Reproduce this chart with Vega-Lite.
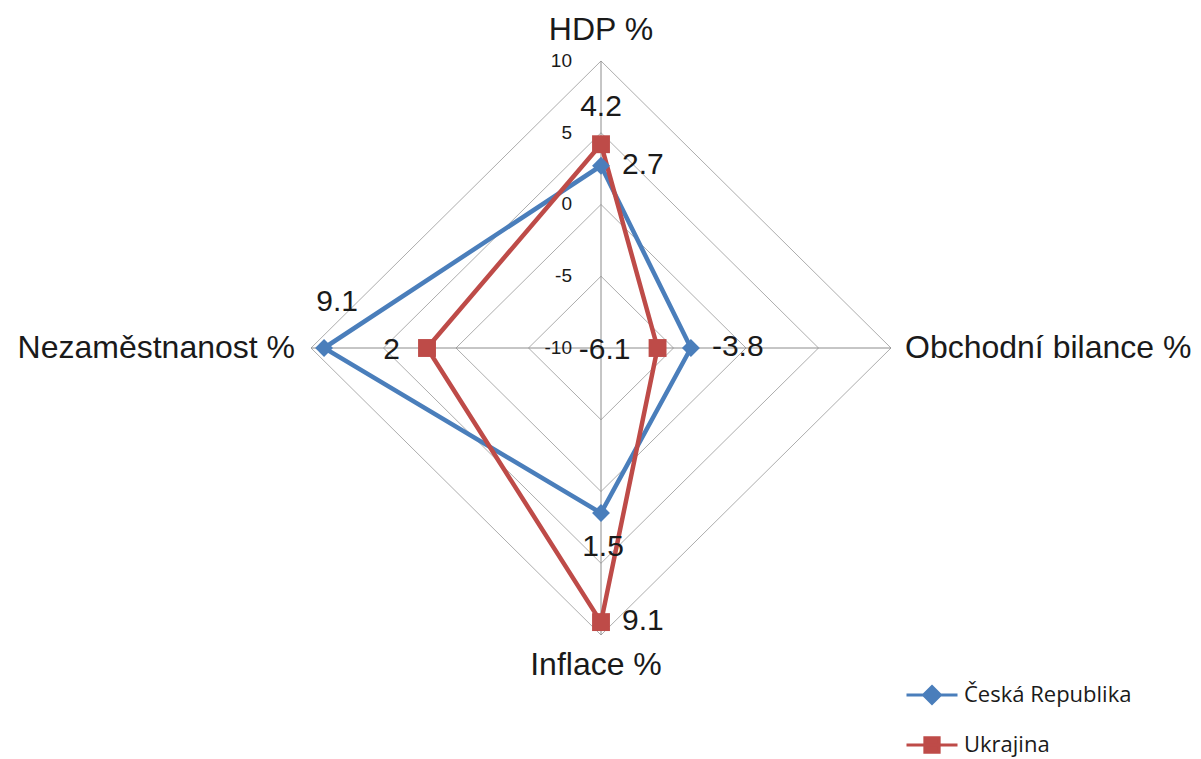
{
  "$schema": "https://vega.github.io/schema/vega-lite/v6.json",
  "width": 1201,
  "height": 759,
  "autosize": {"type": "none"},
  "padding": 0,
  "background": "#ffffff",
  "config": {"view": {"stroke": null}, "font": "Liberation Sans"},
  "datasets": {
    "series": [
      {"series": "Česká Republika", "axis": "HDP %", "idx": 0, "value": 2.7},
      {"series": "Česká Republika", "axis": "Obchodní bilance %", "idx": 1, "value": -3.8},
      {"series": "Česká Republika", "axis": "Inflace %", "idx": 2, "value": 1.5},
      {"series": "Česká Republika", "axis": "Nezaměstnanost %", "idx": 3, "value": 9.1},
      {"series": "Česká Republika", "axis": "HDP %", "idx": 4, "value": 2.7},
      {"series": "Ukrajina", "axis": "HDP %", "idx": 0, "value": 4.2},
      {"series": "Ukrajina", "axis": "Obchodní bilance %", "idx": 1, "value": -6.1},
      {"series": "Ukrajina", "axis": "Inflace %", "idx": 2, "value": 9.1},
      {"series": "Ukrajina", "axis": "Nezaměstnanost %", "idx": 3, "value": 2},
      {"series": "Ukrajina", "axis": "HDP %", "idx": 4, "value": 4.2}
    ],
    "grid": [
      {"lvl": -5, "k": 0}, {"lvl": -5, "k": 1}, {"lvl": -5, "k": 2}, {"lvl": -5, "k": 3}, {"lvl": -5, "k": 4},
      {"lvl": 0, "k": 0}, {"lvl": 0, "k": 1}, {"lvl": 0, "k": 2}, {"lvl": 0, "k": 3}, {"lvl": 0, "k": 4},
      {"lvl": 5, "k": 0}, {"lvl": 5, "k": 1}, {"lvl": 5, "k": 2}, {"lvl": 5, "k": 3}, {"lvl": 5, "k": 4},
      {"lvl": 10, "k": 0}, {"lvl": 10, "k": 1}, {"lvl": 10, "k": 2}, {"lvl": 10, "k": 3}, {"lvl": 10, "k": 4}
    ],
    "spokes": [{"k": 0}, {"k": 1}, {"k": 2}, {"k": 3}],
    "axes": [
      {"axis": "HDP %", "idx": 0},
      {"axis": "Obchodní bilance %", "idx": 1},
      {"axis": "Inflace %", "idx": 2},
      {"axis": "Nezaměstnanost %", "idx": 3}
    ],
    "ticks": [{"tick": -10}, {"tick": -5}, {"tick": 0}, {"tick": 5}, {"tick": 10}]
  },
  "encoding": {
    "x": {"field": "px", "type": "quantitative", "scale": {"domain": [-41.45, 41.38], "nice": false, "zero": false}, "axis": null},
    "y": {"field": "py", "type": "quantitative", "scale": {"domain": [-28.64, 24.25], "nice": false, "zero": false}, "axis": null}
  },
  "layer": [
    {
      "data": {"name": "grid"},
      "transform": [
        {"calculate": "(datum.lvl+10)*sin(datum.k*PI/2)", "as": "px"},
        {"calculate": "(datum.lvl+10)*cos(datum.k*PI/2)", "as": "py"}
      ],
      "mark": {"type": "line", "color": "#ADADAD", "strokeWidth": 1},
      "encoding": {"detail": {"field": "lvl", "type": "nominal"}, "order": {"field": "k", "type": "quantitative"}}
    },
    {
      "data": {"name": "spokes"},
      "transform": [
        {"calculate": "0", "as": "px"},
        {"calculate": "0", "as": "py"},
        {"calculate": "20*sin(datum.k*PI/2)", "as": "ex"},
        {"calculate": "20*cos(datum.k*PI/2)", "as": "ey"}
      ],
      "mark": {"type": "rule", "color": "#8C8C8C", "strokeWidth": 1},
      "encoding": {"x2": {"field": "ex"}, "y2": {"field": "ey"}}
    },
    {
      "data": {"name": "series"},
      "transform": [
        {"calculate": "(datum.value+10)*sin(datum.idx*PI/2)", "as": "px"},
        {"calculate": "(datum.value+10)*cos(datum.idx*PI/2)", "as": "py"}
      ],
      "mark": {"type": "line", "strokeWidth": 4.5},
      "encoding": {
        "color": {
          "field": "series",
          "type": "nominal",
          "scale": {"domain": ["Česká Republika", "Ukrajina"], "range": ["#4A7EBB", "#BE4B48"]},
          "legend": {
            "title": null,
            "orient": "none",
            "legendX": 905,
            "legendY": 668,
            "padding": 0,
            "rowPadding": 8,
            "symbolSize": 2601,
            "symbolStrokeWidth": 3,
            "labelFont": "Open Sans",
            "labelFontSize": 22,
            "labelColor": "#1a1a1a",
            "labelOffset": 5,
            "labelLimit": 300,
            "encode": {
              "symbols": {
                "update": {
                  "shape": {"signal": "datum.value === 'Ukrajina' ? 'M-1,0L1,0M-0.28,-0.28L0.28,-0.28L0.28,0.28L-0.28,0.28Z' : 'M-1,0L1,0M0,-0.33L0.33,0L0,0.33L-0.33,0Z'"},
                  "fill": {"scale": "color", "field": "value"},
                  "stroke": {"scale": "color", "field": "value"},
                  "size": {"value": 2601},
                  "strokeWidth": {"value": 3},
                  "opacity": {"value": 1}
                }
              }
            }
          }
        },
        "order": {"field": "idx", "type": "quantitative"}
      }
    },
    {
      "data": {"name": "series"},
      "transform": [
        {"filter": "datum.idx < 4 && datum.series == 'Česká Republika'"},
        {"calculate": "(datum.value+10)*sin(datum.idx*PI/2)", "as": "px"},
        {"calculate": "(datum.value+10)*cos(datum.idx*PI/2)", "as": "py"}
      ],
      "mark": {"type": "point", "filled": true, "opacity": 1, "size": 320, "shape": "diamond", "color": "#4A7EBB"}
    },
    {
      "data": {"name": "series"},
      "transform": [
        {"filter": "datum.idx < 4 && datum.series == 'Ukrajina'"},
        {"calculate": "(datum.value+10)*sin(datum.idx*PI/2)", "as": "px"},
        {"calculate": "(datum.value+10)*cos(datum.idx*PI/2)", "as": "py"}
      ],
      "mark": {"type": "point", "filled": true, "opacity": 1, "size": 320, "shape": "square", "color": "#BE4B48"}
    },
    {
      "data": {"name": "ticks"},
      "transform": [
        {"calculate": "0", "as": "px"},
        {"calculate": "datum.tick+10", "as": "py"}
      ],
      "mark": {"type": "text", "align": "right", "baseline": "middle", "dx": -29, "fontSize": 19, "color": "#1a1a1a"},
      "encoding": {"text": {"field": "tick", "type": "nominal"}}
    },
    {
      "data": {"name": "axes"},
      "transform": [
        {"filter": "datum.idx == 0"},
        {"calculate": "20*sin(datum.idx*PI/2)", "as": "px"},
        {"calculate": "20*cos(datum.idx*PI/2)", "as": "py"}
      ],
      "mark": {"type": "text", "align": "center", "baseline": "middle", "dy": -31, "fontSize": 32, "color": "#1a1a1a"},
      "encoding": {"text": {"field": "axis", "type": "nominal"}}
    },
    {
      "data": {"name": "axes"},
      "transform": [
        {"filter": "datum.idx == 1"},
        {"calculate": "20*sin(datum.idx*PI/2)", "as": "px"},
        {"calculate": "20*cos(datum.idx*PI/2)", "as": "py"}
      ],
      "mark": {"type": "text", "align": "left", "baseline": "middle", "dx": 14, "fontSize": 32, "color": "#1a1a1a"},
      "encoding": {"text": {"field": "axis", "type": "nominal"}}
    },
    {
      "data": {"name": "axes"},
      "transform": [
        {"filter": "datum.idx == 2"},
        {"calculate": "20*sin(datum.idx*PI/2)", "as": "px"},
        {"calculate": "20*cos(datum.idx*PI/2)", "as": "py"}
      ],
      "mark": {"type": "text", "align": "center", "baseline": "middle", "dx": -5, "dy": 30, "fontSize": 32, "color": "#1a1a1a"},
      "encoding": {"text": {"field": "axis", "type": "nominal"}}
    },
    {
      "data": {"name": "axes"},
      "transform": [
        {"filter": "datum.idx == 3"},
        {"calculate": "20*sin(datum.idx*PI/2)", "as": "px"},
        {"calculate": "20*cos(datum.idx*PI/2)", "as": "py"}
      ],
      "mark": {"type": "text", "align": "right", "baseline": "middle", "dx": -16, "fontSize": 32, "color": "#1a1a1a"},
      "encoding": {"text": {"field": "axis", "type": "nominal"}}
    },
    {
      "data": {"name": "series"},
      "transform": [
        {"filter": "(datum.series == 'Česká Republika' && (datum.idx == 0 || datum.idx == 1)) || (datum.series == 'Ukrajina' && datum.idx == 2)"},
        {"calculate": "(datum.value+10)*sin(datum.idx*PI/2)", "as": "px"},
        {"calculate": "(datum.value+10)*cos(datum.idx*PI/2)", "as": "py"}
      ],
      "mark": {"type": "text", "align": "left", "baseline": "middle", "dx": 21, "dy": -1, "fontSize": 30, "color": "#1a1a1a"},
      "encoding": {"text": {"field": "value", "type": "nominal"}}
    },
    {
      "data": {"name": "series"},
      "transform": [
        {"filter": "datum.series == 'Ukrajina' && (datum.idx == 1 || datum.idx == 3)"},
        {"calculate": "(datum.value+10)*sin(datum.idx*PI/2)", "as": "px"},
        {"calculate": "(datum.value+10)*cos(datum.idx*PI/2)", "as": "py"}
      ],
      "mark": {"type": "text", "align": "right", "baseline": "middle", "dx": -27, "dy": 2, "fontSize": 30, "color": "#1a1a1a"},
      "encoding": {"text": {"field": "value", "type": "nominal"}}
    },
    {
      "data": {"name": "series"},
      "transform": [
        {"filter": "datum.series == 'Ukrajina' && datum.idx == 0"},
        {"calculate": "(datum.value+10)*sin(datum.idx*PI/2)", "as": "px"},
        {"calculate": "(datum.value+10)*cos(datum.idx*PI/2)", "as": "py"}
      ],
      "mark": {"type": "text", "align": "center", "baseline": "middle", "dy": -37, "fontSize": 30, "color": "#1a1a1a"},
      "encoding": {"text": {"field": "value", "type": "nominal"}}
    },
    {
      "data": {"name": "series"},
      "transform": [
        {"filter": "datum.series == 'Česká Republika' && datum.idx == 2"},
        {"calculate": "(datum.value+10)*sin(datum.idx*PI/2)", "as": "px"},
        {"calculate": "(datum.value+10)*cos(datum.idx*PI/2)", "as": "py"}
      ],
      "mark": {"type": "text", "align": "center", "baseline": "middle", "dx": 2, "dy": 34, "fontSize": 30, "color": "#1a1a1a"},
      "encoding": {"text": {"field": "value", "type": "nominal"}}
    },
    {
      "data": {"name": "series"},
      "transform": [
        {"filter": "datum.series == 'Česká Republika' && datum.idx == 3"},
        {"calculate": "(datum.value+10)*sin(datum.idx*PI/2)", "as": "px"},
        {"calculate": "(datum.value+10)*cos(datum.idx*PI/2)", "as": "py"}
      ],
      "mark": {"type": "text", "align": "center", "baseline": "middle", "dx": 13, "dy": -46, "fontSize": 30, "color": "#1a1a1a"},
      "encoding": {"text": {"field": "value", "type": "nominal"}}
    }
  ]
}
